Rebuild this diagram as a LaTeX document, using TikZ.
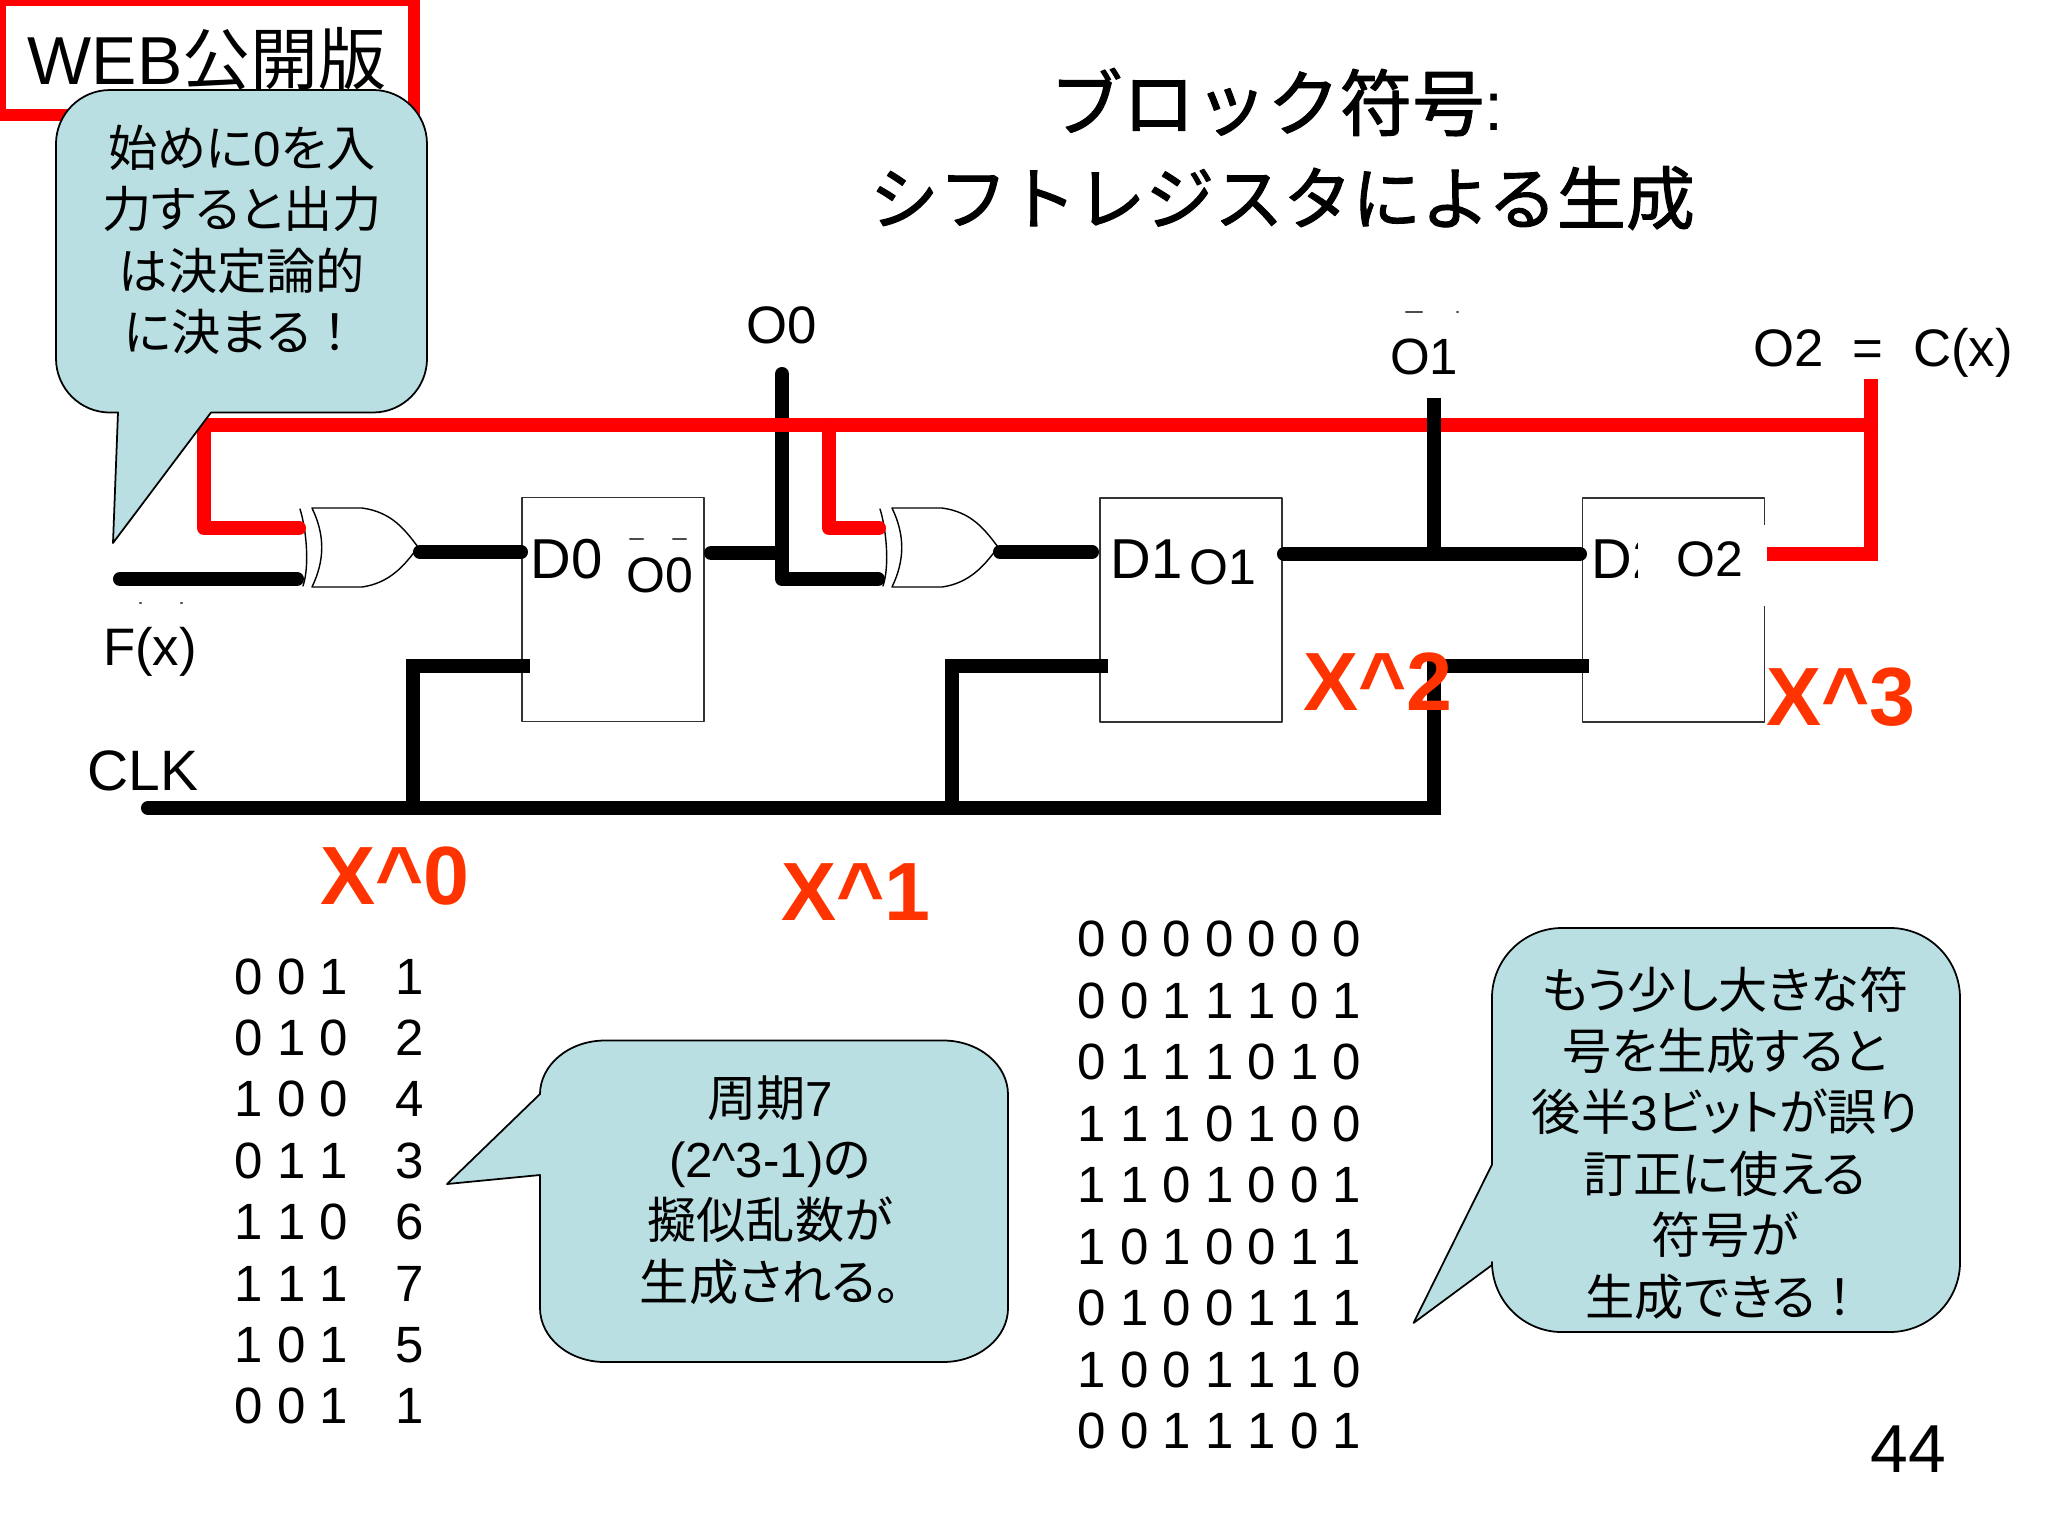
\documentclass[tikz,border=0pt]{standalone}
\usepackage{fontspec}
\setmainfont{Liberation Sans}
\newfontfamily\cjk{Noto Sans CJK JP}
\newfontfamily\cjkp[RawFeature=+palt]{Noto Sans CJK JP}
\newfontfamily\cjkhead[FakeBold=1.5]{Noto Sans CJK JP}
\definecolor{bubblecol}{HTML}{B9DFE2}
\definecolor{powcol}{HTML}{FF3300}
\tikzset{
  wire/.style={line width=4pt,black},
  fbwire/.style={line width=4pt,red},
  clkwire/.style={line width=4pt,black,line join=miter,line cap=butt},
  bubble/.style={draw=black,line width=.5pt,fill=bubblecol},
  bubbletext/.style={inner sep=0pt,align=center,font=\fontsize{14}{17.47}\selectfont\cjkp},
  ffbox/.style={draw=black!80,line width=.4pt,fill=white,minimum width=1.82cm,minimum height=2.24cm,inner sep=0pt},
  gate/.style={draw=black,line width=.4pt,fill=white},
  sig/.style={inner sep=0pt,font=\fontsize{14.2}{17}\selectfont},
  reg/.style={inner sep=0pt,font=\fontsize{16}{19}\selectfont},
  pow/.style={inner sep=0pt,text=powcol,font=\fontsize{23.5}{27}\selectfont\bfseries},
  seq/.style={inner sep=0pt,font=\fontsize{14.5}{17}\selectfont},
  crumb/.style={line width=.6pt,black!70}
}
\begin{document}
\begin{tikzpicture}[line cap=round,line join=round,x=0.01cm,y=-0.01cm]
  \useasboundingbox (0,0) rectangle (2048,1536);

  \node[draw=red,line width=3.4pt,line cap=butt,line join=miter,minimum width=4.14cm,minimum height=1.15cm,inner sep=0pt] (webbox) at (207,57.5) {};
  \node[inner sep=0pt,font=\fontsize{19.3}{22}\selectfont] (web) at (207,59) {WEB{\cjk 公開版}};

  \node[inner sep=0pt,align=center,font=\fontsize{19.6}{26.7}\selectfont\cjkhead] (title) at (1277,149)
    {{\fontsize{20.6}{26.7}\selectfont ブロック符号}{\fontspec{Liberation Sans}:}\\\hspace*{3pt}シフトレジスタによる生成};

  \node[ffbox] (ff0) at (613,609.5) {};
  \node[ffbox] (ff1) at (1191,610) {};
  \node[ffbox] (ff2) at (1673.5,610) {};

  \node[reg,anchor=west] (d0) at (530,559) {D0};
  \node[reg,anchor=west] (d1) at (1110,559) {D1};
  \node[reg,anchor=west] (d2) at (1591,559) {D2};
  \fill[white] (1638,525) rectangle (1769,606);
  \node[sig] (q0) at (660,575) {O0};
  \node[sig] (q1) at (1223,567) {O1};
  \node[sig] (q2) at (1710,559) {O2};

  \draw[crumb] (630,539)--(643,539) (673,539)--(686,539);
  \draw[crumb] (1406,312)--(1422,312) (1457,312)--(1458,312);
  \draw[crumb] (140,603)--(141,603) (181,603)--(182,603);

  \foreach \g in {0,580} {
    \draw[gate,fill=none] (300+\g,509) .. controls (306+\g,528) and (310+\g,565) .. (303+\g,586);
    \draw[gate] (312+\g,508)--(362+\g,508) .. controls (392+\g,512) and (405+\g,530) .. (418+\g,547)
      .. controls (405+\g,565) and (390+\g,583) .. (362+\g,587)--(312+\g,587)
      .. controls (325+\g,560) and (325+\g,535) .. cycle;
  }

  \path (120,579) coordinate (Fin)
    (297,579) coordinate (XaB)
    (299,528) coordinate (XaA)
    (204,528) coordinate (FbA)
    (204,425) coordinate (FbL)
    (829,425) coordinate (FbM)
    (829,528) coordinate (FbB)
    (879,528) coordinate (XbA)
    (878,579) coordinate (XbB)
    (1871,425) coordinate (FbR)
    (1871,379) coordinate (Out)
    (1871,554) coordinate (FbD)
    (1767,554) coordinate (Qc)
    (420,552) coordinate (XaO)
    (521,552) coordinate (Da)
    (711,553) coordinate (Qa)
    (782,553) coordinate (Na)
    (782,374) coordinate (Ta)
    (782,579) coordinate (Ja)
    (1000,552) coordinate (XbO)
    (1092,552) coordinate (Db)
    (1284,554) coordinate (Qb)
    (1580,554) coordinate (Dc)
    (1434,554) coordinate (Nb)
    (1434,398) coordinate (Tb)
    (148,808) coordinate (ClkL)
    (1434,808) coordinate (ClkR)
    (1434,666) coordinate (ClkU)
    (1589,666) coordinate (ClkC)
    (413,808) coordinate (ClkP)
    (413,666) coordinate (ClkPu)
    (530,666) coordinate (ClkA)
    (952,808) coordinate (ClkQ)
    (952,666) coordinate (ClkQu)
    (1108,666) coordinate (ClkB);

  \draw[wire] (Fin)--(XaB);
  \draw[wire] (XaO)--(Da);
  \draw[wire] (Qa)--(Na);
  \draw[wire] (Ta)--(Ja)--(XbB);
  \draw[wire] (XbO)--(Db);
  \draw[wire] (Qb)--(Dc);
  \draw[fbwire] (XaA)--(FbA)--(FbL)--(FbR);
  \draw[fbwire] (FbM)--(FbB)--(XbA);
  \draw[fbwire,line cap=butt,line join=miter] (Out)--(FbD)--(Qc);
  \draw[clkwire] (Tb)--(Nb);
  \draw[wire] (ClkL)--(ClkP);
  \draw[clkwire] (ClkL)--(ClkR)--(ClkU)--(ClkC);
  \draw[clkwire] (ClkP)--(ClkPu)--(ClkA);
  \draw[clkwire] (ClkQ)--(ClkQu)--(ClkB);

  \node[sig,font=\fontsize{15}{17}\selectfont] (lo0) at (782,325) {O0};
  \node[sig,font=\fontsize{14.5}{17}\selectfont] (lo1) at (1424,357) {O1};
  \node[sig,font=\fontsize{15}{17}\selectfont] (lo2) at (1883,353) {O2~~=~~C(x)};
  \node[sig,font=\fontsize{15}{17}\selectfont] (lf) at (150,652) {F(x)};
  \node[inner sep=0pt,font=\fontsize{16.2}{19}\selectfont] (lclk) at (143,771) {CLK};

  \node[pow] (x0) at (395,876) {X\^{}0};
  \node[pow] (x1) at (856,892) {X\^{}1};
  \node[pow] (x2) at (1378,682) {X\^{}2};
  \node[pow] (x3) at (1841,697) {X\^{}3};

  \draw[bubble] (118,412.5)--(113,543)--(211,412.5)--(373,412.5) arc[start angle=270,end angle=360,radius=.54cm]
    --(427,144) arc[start angle=0,end angle=90,radius=.54cm]
    --(110,90) arc[start angle=90,end angle=180,radius=.54cm]
    --(56,358.5) arc[start angle=180,end angle=270,radius=.54cm]--cycle;
  \node[bubbletext] (say0) at (242,240) {始めに{\fontspec{Liberation Sans}0}を入\\力すると出力\\は決定論的\\に決まる{\cjk\symbol{"FF01}}};

  \draw[bubble] (540,1094)--(447,1184)--(540,1175)--(540,1308) arc[start angle=180,end angle=270,x radius=.65cm,y radius=.54cm]
    --(943,1362) arc[start angle=270,end angle=360,x radius=.65cm,y radius=.54cm]
    --(1008,1094.5) arc[start angle=0,end angle=90,x radius=.65cm,y radius=.54cm]
    --(605,1040.5) arc[start angle=90,end angle=180,x radius=.65cm,y radius=.54cm]--cycle;
  \node[bubbletext] (say1) at (770,1190) {周期{\fontspec{Liberation Sans}7}\\{\fontspec{Liberation Sans}(2\^{}3-1)}の\\擬似乱数が\\生成される。};

  \draw[bubble] (1492,1164.5)--(1413.5,1323)--(1492,1265)--(1492,1262) arc[start angle=180,end angle=270,radius=.7cm]
    --(1890,1332) arc[start angle=270,end angle=360,radius=.7cm]
    --(1960,998) arc[start angle=0,end angle=90,radius=.7cm]
    --(1562,928) arc[start angle=90,end angle=180,radius=.7cm]--cycle;
  \node[bubbletext] (say2) at (1725,1143) {もう少し大きな符\\号を生成すると\\後半{\fontspec{Liberation Sans}3}ビットが誤り\\訂正に使える\\符号が\\生成できる{\cjk\symbol{"FF01}}};

  \foreach \bits/\val [count=\i from 0] in {0 0 1/1,0 1 0/2,1 0 0/4,0 1 1/3,1 1 0/6,1 1 1/7,1 0 1/5,0 0 1/1} {
    \node[seq,anchor=west] (st\i) at (234,976.5+61.4*\i) {\bits};
    \node[seq] (sv\i) at (410,976.5+61.4*\i) {\val};
  }
  \foreach \bits [count=\i from 0] in {0 0 0 0 0 0 0,0 0 1 1 1 0 1,0 1 1 1 0 1 0,1 1 1 0 1 0 0,1 1 0 1 0 0 1,1 0 1 0 0 1 1,0 1 0 0 1 1 1,1 0 0 1 1 1 0,0 0 1 1 1 0 1} {
    \node[seq,anchor=west] (cw\i) at (1077,939+61.5*\i) {\bits};
  }

  \node[inner sep=0pt,font=\fontsize{19.3}{23}\selectfont] (page) at (1908,1449) {44};
\end{tikzpicture}
\end{document}
